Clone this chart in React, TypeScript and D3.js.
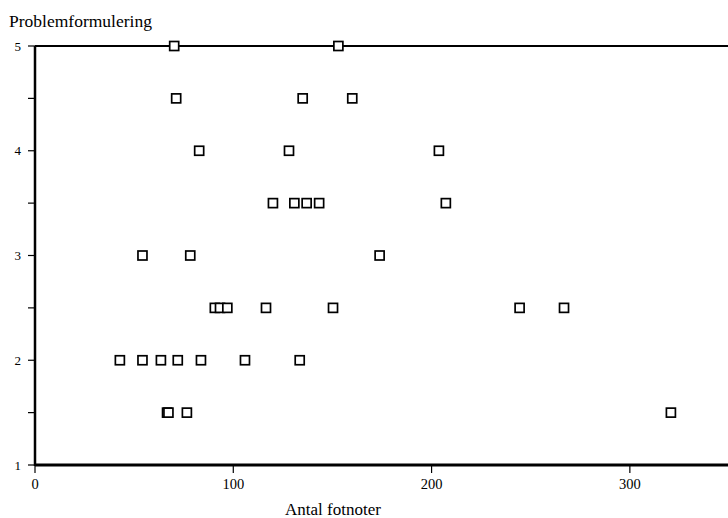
import React from "react";
import * as d3 from "d3";

const fotnoter: number[] = [
  70.2, 153,
  71.2, 135, 160,
  82.8, 128.1, 203.7,
  120, 130.8, 137, 143.3, 207.2,
  54.2, 78.3, 173.8,
  90.7, 93.3, 97, 116.5, 150.3, 244.4, 266.8,
  42.8, 54.2, 63.5, 72, 83.7, 105.9, 133.5,
  66.6, 67.3, 76.6, 320.7,
];
const problem: number[] = [
  5, 5,
  4.5, 4.5, 4.5,
  4, 4, 4,
  3.5, 3.5, 3.5, 3.5, 3.5,
  3, 3, 3,
  2.5, 2.5, 2.5, 2.5, 2.5, 2.5, 2.5,
  2, 2, 2, 2, 2, 2, 2,
  1.5, 1.5, 1.5, 1.5,
];
const xTicks: number[] = [0, 100, 200, 300];
const yTicks: number[] = [1, 2, 3, 4, 5];
const yMinorTicks: number[] = [1, 1.5, 2, 2.5, 3, 3.5, 4, 4.5, 5];

export default function App() {
  const W = 728, H = 518;
  const x = d3.scaleLinear().domain([0, 350]).range([35, 729]);
  const y = d3.scaleLinear().domain([1, 5]).range([465, 46]);
  const font = "'Liberation Serif', 'Times New Roman', serif";
  const s = 9;
  return (
    <svg width={W} height={H} style={{ position: "absolute", left: 0, top: 0, background: "#fff" }}>
      <rect width={W} height={H} fill="#fff" />
      <text x={9} y={27} fontFamily={font} fontSize={17.5} fill="#000">Problemformulering</text>
      {/* top line */}
      <line x1={x(0)} x2={W} y1={y(5)} y2={y(5)} stroke="#000" strokeWidth={1.8} />
      {/* left axis */}
      <line x1={x(0)} x2={x(0)} y1={y(5)} y2={y(1) + 1} stroke="#000" strokeWidth={2.5} />
      {yMinorTicks.map((t) => (
        <line key={"yt" + t} x1={x(0) - 7} x2={x(0)} y1={y(t)} y2={y(t)} stroke="#000" strokeWidth={1.2} />
      ))}
      {yTicks.map((t) => (
        <text key={"yl" + t} x={x(0) - 14} y={y(t) + 4.5} textAnchor="end" fontFamily={font} fontSize={13} fill="#000">{t}</text>
      ))}
      {/* bottom axis */}
      <line x1={x(0)} x2={W} y1={y(1)} y2={y(1)} stroke="#000" strokeWidth={3.2} />
      {xTicks.map((t) => (
        <line key={"xt" + t} x1={x(t)} x2={x(t)} y1={y(1)} y2={y(1) + 8} stroke="#000" strokeWidth={1.2} />
      ))}
      {xTicks.map((t) => (
        <text key={"xl" + t} x={x(t)} y={489} textAnchor="middle" fontFamily={font} fontSize={14.5} fill="#000">{t}</text>
      ))}
      <text x={333} y={515} textAnchor="middle" fontFamily={font} fontSize={17} fill="#000">Antal fotnoter</text>
      {fotnoter.map((v, i) => (
        <rect key={"p" + i} x={x(v) - s / 2} y={y(problem[i]) - s / 2} width={s} height={s} fill="#fff" stroke="#000" strokeWidth={1.7} />
      ))}
    </svg>
  );
}
